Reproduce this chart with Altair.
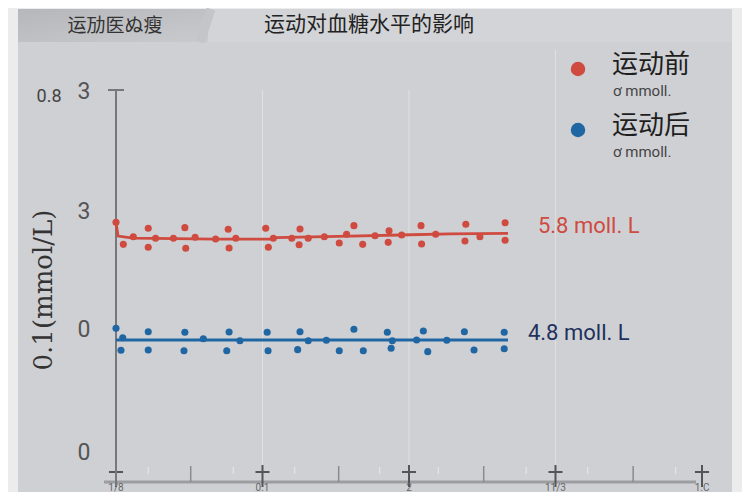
import altair as alt
import pandas as pd

# ---------------- data ----------------
red_x = [0.0, 0.25, 0.59, 1.10, 1.10, 1.35, 1.96, 2.35, 2.38, 2.70, 3.40, 3.83, 3.86, 4.09,
         5.11, 5.20, 5.37, 6.00, 6.28, 6.25, 6.56, 7.11, 7.62, 7.87, 8.12, 8.42, 8.84, 9.32,
         9.29, 9.75, 10.41, 10.43, 10.91, 11.94, 11.91, 12.42, 13.28, 13.28]
red_y = [5.921, 5.711, 5.784, 5.864, 5.683, 5.769, 5.769, 5.870, 5.673, 5.778, 5.762, 5.854,
         5.676, 5.769, 5.864, 5.683, 5.769, 5.769, 5.857, 5.708, 5.769, 5.784, 5.724, 5.807,
         5.889, 5.711, 5.793, 5.841, 5.730, 5.800, 5.889, 5.714, 5.807, 5.902, 5.743, 5.784,
         5.917, 5.750]

blue_x = [0.0, 0.23, 0.17, 1.10, 1.10, 2.35, 2.32, 2.98, 3.86, 3.78, 4.23, 5.16, 5.19, 6.28,
          6.20, 6.56, 7.18, 7.62, 8.12, 8.44, 9.26, 9.43, 9.39, 10.26, 10.49, 10.64, 11.29,
          11.89, 12.22, 13.25, 13.25]
blue_y = [4.911, 4.822, 4.702, 4.879, 4.705, 4.873, 4.698, 4.812, 4.876, 4.698, 4.793, 4.873,
          4.698, 4.879, 4.708, 4.793, 4.797, 4.698, 4.902, 4.698, 4.873, 4.793, 4.721, 4.800,
          4.886, 4.689, 4.797, 4.879, 4.705, 4.873, 4.717]

red_line_x = [0.0, 0.07, 0.58, 3.38, 5.30, 5.45, 6.28, 7.99, 9.69, 11.40, 13.38]
red_line_y = [5.92, 5.79, 5.77, 5.76, 5.76, 5.775, 5.78, 5.79, 5.80, 5.81, 5.816]
blue_line_x = [0.0, 13.38]
blue_line_y = [4.80, 4.80]

y_tick_values = [7.162, 6.019, 4.895, 3.724]
y_tick_labels = ["3", "3", "0", "0"]

x_major = [0, 5, 10, 15, 20]
x_major_labels = ["1/8", "0.1", "2", "11/3", "1.C"]
x_half = [2.55, 7.6, 12.55, 17.65]
x_minor = [1.1, 4.0, 6.1, 9.0, 11.0, 14.0, 16.1, 19.1]
grid_x = [5, 10, 15]

series_names = ["运动前", "运动后"]
series_units = ["ơ mmoll.", "ơ mmoll."]
annot_text = ["5.8 moll. L", "4.8 moll. L"]
annot_x = [14.40, 14.06]
annot_y = [5.886, 4.867]

title_text = "运动对血糖水平的影响"
tab_text = "运劢医ぬ瘦"
y_title = "0.1(mmol/L)"
corner_text = "0.8"

RED = "#cf4a3f"
BLUE = "#1f66a3"
CJK = "Noto Sans CJK SC"
NUM = "Roboto"

W, H = 586, 392
XS = alt.Scale(domain=[0, 20], nice=False, zero=False)
YS = alt.Scale(domain=[3.4476, 7.181], nice=False, zero=False)

one = alt.Data(values=[{}])

def X(field="x"):
    return alt.X(f"{field}:Q", scale=XS, axis=None)

def Y(field="y"):
    return alt.Y(f"{field}:Q", scale=YS, axis=None)

# ---------------- decorations ----------------
panel = alt.Chart(one).mark_rect(color="#cfd0d4").encode(
    x=alt.value(-98), x2=alt.value(616), y=alt.value(-81), y2=alt.value(410))
header = alt.Chart(one).mark_rect(color="#d3d4d7").encode(
    x=alt.value(-98), x2=alt.value(616), y=alt.value(-81), y2=alt.value(-48))
tab = alt.Chart(one).mark_rect(
    color=alt.Gradient(gradient="linear",
                       stops=[alt.GradientStop(color="#b6b7ba", offset=0),
                              alt.GradientStop(color="#c9cacd", offset=1)],
                       x1=0, x2=1, y1=0, y2=1)
).encode(x=alt.value(-98), x2=alt.value(92), y=alt.value(-81), y2=alt.value(-48))
# slanted edge of the tab
tab_edge = alt.Chart(one).mark_rule(color="#c4c5c8", strokeWidth=9).encode(
    x=alt.value(95), x2=alt.value(84), y=alt.value(-81), y2=alt.value(-48))

grid = alt.Chart(pd.DataFrame({"x": grid_x})).mark_rule(color="#dfe0e3", strokeWidth=1).encode(
    x=X(), y=alt.value(0), y2=alt.value(H))
sep = alt.Chart(pd.DataFrame({"x": [15]})).mark_rule(color="#dfe0e3", strokeWidth=1).encode(
    x=X(), y=alt.value(-40), y2=alt.value(0))

baseline = alt.Chart(one).mark_rule(color="#9c9da1", strokeWidth=3).encode(
    x=alt.value(-12), x2=alt.value(580), y=alt.value(H))
minor = alt.Chart(pd.DataFrame({"x": x_minor})).mark_rule(color="#e9e9eb", strokeWidth=1).encode(
    x=X(), y=alt.value(377), y2=alt.value(384))
half = alt.Chart(pd.DataFrame({"x": x_half})).mark_rule(color="#8a8b8f", strokeWidth=1.5).encode(
    x=X(), y=alt.value(376), y2=alt.value(392))
major_df = pd.DataFrame({"x": x_major, "label": x_major_labels})
major = alt.Chart(major_df).mark_rule(color="#555559", strokeWidth=2).encode(
    x=X(), y=alt.value(375), y2=alt.value(397))
cross = alt.Chart(major_df).transform_calculate(
    x0="datum.x - 0.24", x1="datum.x + 0.24"
).mark_rule(color="#555559", strokeWidth=2).encode(
    x=X("x0"), x2="x1:Q", y=alt.value(382))
xlabels = alt.Chart(major_df).mark_text(
    font=NUM, fontSize=10, color="#666", baseline="alphabetic"
).encode(x=X(), y=alt.value(401), text="label:N")

# manual y axis
yaxis_line = alt.Chart(one).mark_rule(color="#77787c", strokeWidth=2).encode(
    x=alt.value(0), y=alt.value(0), y2=alt.value(H + 4))
top_t = alt.Chart(one).mark_rule(color="#77787c", strokeWidth=2).encode(
    x=alt.value(-8), x2=alt.value(8), y=alt.value(0))
ytick_df = pd.DataFrame({"y": y_tick_values, "label": y_tick_labels})
ylabels = alt.Chart(ytick_df).mark_text(
    font=NUM, fontSize=23, color="#555", align="center", baseline="middle"
).encode(x=alt.value(-32), y=Y(), text="label:N")

# ---------------- data marks ----------------
red_pts = pd.DataFrame({"x": red_x, "y": red_y, "s": series_names[0]})
blue_pts = pd.DataFrame({"x": blue_x, "y": blue_y, "s": series_names[1]})

red_line = alt.Chart(pd.DataFrame({"x": red_line_x, "y": red_line_y})).mark_line(
    color=RED, strokeWidth=2.8).encode(x=X(), y=Y())
blue_line = alt.Chart(pd.DataFrame({"x": blue_line_x, "y": blue_line_y})).mark_line(
    color=BLUE, strokeWidth=3).encode(x=X(), y=Y())

red_dots = alt.Chart(red_pts).mark_circle(color=RED, size=50, opacity=1).encode(x=X(), y=Y())
blue_dots = alt.Chart(blue_pts).mark_circle(color=BLUE, size=50, opacity=1).encode(x=X(), y=Y())

annot_df = pd.DataFrame({"x": annot_x, "y": annot_y, "t": annot_text, "c": [RED, "#22305e"]})
annots = alt.Chart(annot_df).mark_text(font=NUM, fontSize=22, align="left", baseline="middle").encode(
    x=X(), y=Y(), text="t:N", color=alt.Color("c:N", scale=None))

# ---------------- legend (manual) ----------------
leg_df = pd.DataFrame({"name": series_names, "unit": series_units, "c": [RED, BLUE],
                       "py": [-21, 40]})
leg_dot = alt.Chart(leg_df).mark_circle(size=210, opacity=1).encode(
    x=alt.value(462), y=alt.Y("py:Q", scale=None), color=alt.Color("c:N", scale=None))
leg_name = alt.Chart(leg_df).mark_text(font=CJK, fontSize=26, align="left", baseline="middle",
                                       color="#1e1e1e", dy=-4).encode(
    x=alt.value(496), y=alt.Y("py:Q", scale=None), text="name:N")
leg_unit = alt.Chart(leg_df).mark_text(font=NUM, fontSize=15, align="left", baseline="middle",
                                       color="#444", dy=22).encode(
    x=alt.value(497), y=alt.Y("py:Q", scale=None), text="unit:N")

# ---------------- texts ----------------
title = alt.Chart(one).mark_text(text=title_text, font=CJK, fontSize=21, color="#222",
                                 align="center", baseline="middle").encode(
    x=alt.value(253), y=alt.value(-65))
tabt = alt.Chart(one).mark_text(text=tab_text, font=CJK, fontSize=19, color="#333",
                                align="center", baseline="middle").encode(
    x=alt.value(-1), y=alt.value(-64))
corner = alt.Chart(one).mark_text(text=corner_text, font=NUM, fontSize=18, color="#444",
                                  align="center", baseline="middle").encode(
    x=alt.value(-67), y=alt.value(7))
ytitle = alt.Chart(one).mark_text(text=y_title, font="DejaVu Serif", fontSize=26, color="#333",
                                  align="center", baseline="middle", angle=270).encode(
    x=alt.value(-72), y=alt.value(200))

chart = alt.layer(
    panel, header, tab, tab_edge, grid, sep, baseline, minor, half, major, cross, xlabels,
    yaxis_line, top_t, ylabels,
    red_line, blue_line, red_dots, blue_dots, annots,
    leg_dot, leg_name, leg_unit, title, tabt, corner, ytitle
).properties(
    width=W, height=H,
    padding={"left": 108, "top": 82, "right": 40, "bottom": 10},
    autosize=alt.AutoSizeParams(type="none"),
    background="#ececec",
).configure_view(stroke=None)

chart.save("out.html", embed_options={"renderer": "svg", "actions": False})
